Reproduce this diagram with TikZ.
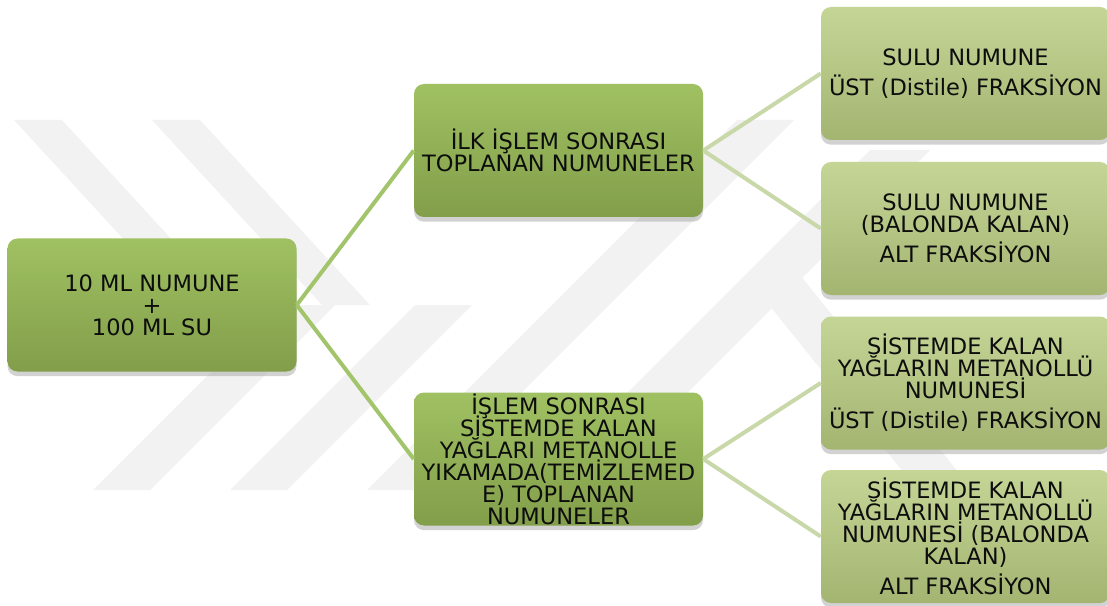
\documentclass[tikz,border=0pt]{standalone}
\usepackage{fontspec}
\setmainfont{DejaVu Sans}
\usetikzlibrary{shadows}
\definecolor{koyuust}{RGB}{160,193,98}
\definecolor{koyualt}{RGB}{130,158,74}
\definecolor{acikust}{RGB}{196,213,150}
\definecolor{acikalt}{RGB}{164,181,114}
\definecolor{baglanti}{RGB}{162,197,108}
\definecolor{acikbaglanti}{RGB}{200,216,168}
\definecolor{filigran}{RGB}{242,242,242}
\newcommand\kutuyazi{\fontsize{16.9}{16.5}\selectfont\setlength{\lineskiplimit}{-50pt}}
\tikzset{
  kutu/.style={rectangle, rounded corners=7.5pt, minimum width=216.75pt,
    minimum height=99.75pt, inner sep=0pt, align=center, text=black!95,
    font=\kutuyazi,
    drop shadow={shadow xshift=0pt, shadow yshift=-3.5pt, fill=black!35, opacity=0.5}},
  koyu/.style={kutu, top color=koyuust, bottom color=koyualt},
  acik/.style={kutu, top color=acikust, bottom color=acikalt},
  hat/.style={line width=3pt, baglanti},
  acikhat/.style={line width=3pt, acikbaglanti}
}
\begin{document}
\begin{tikzpicture}[x=0.75pt,y=-0.75pt]
\useasboundingbox (0,0) rectangle (1107,606);
% filigran
\fill [filigran] (14,120) -- (62,120) -- (232,305) -- (184,305) -- cycle;
\fill [filigran] (152,120) -- (200,120) -- (370,305) -- (322,305) -- cycle;
\fill [filigran] (93,490) -- (150,490) -- (335,305) -- (278,305) -- cycle;
\fill [filigran] (230,490) -- (287,490) -- (472,305) -- (415,305) -- cycle;
\fill [filigran] (367,490) -- (424,490) -- (794,120) -- (737,120) -- cycle;
\fill [filigran] (530,490) -- (590,490) -- (930,150) -- (870,150) -- cycle;
\fill [filigran] (745,275) -- (800,275) -- (975,493) -- (920,493) -- cycle;
% kutular
\node [koyu] (numune) at (152,305) {10 ML NUMUNE\\+\\100 ML SU};
\node [koyu] (ilk) at (558.5,150.5) {İLK İŞLEM SONRASI\\TOPLANAN NUMUNELER};
\node [koyu] (islem) at (558.5,459) {İŞLEM SONRASI\\SİSTEMDE KALAN\\YAĞLARI METANOLLE\\YIKAMADA(TEMİZLEMED\\E) TOPLANAN\\NUMUNELER};
\node [acik] (ustbir) at (965.5,73.5) {SULU NUMUNE\\[6pt]ÜST (Distile) FRAKSİYON};
\node [acik] (altbir) at (965.5,228.5) {SULU NUMUNE\\(BALONDA KALAN)\\[6pt]ALT FRAKSİYON};
\node [acik] (ustiki) at (965.5,383) {SİSTEMDE KALAN\\YAĞLARIN METANOLLÜ\\NUMUNESİ\\[6pt]ÜST (Distile) FRAKSİYON};
\node [acik] (altiki) at (965.5,536.5) {SİSTEMDE KALAN\\YAĞLARIN METANOLLÜ\\NUMUNESİ (BALONDA\\KALAN)\\[6pt]ALT FRAKSİYON};
% baglantilar
\draw [hat] (numune.east) -- (ilk.west);
\draw [hat] (numune.east) -- (islem.west);
\draw [acikhat] (ilk.east) -- (ustbir.west);
\draw [acikhat] (ilk.east) -- (altbir.west);
\draw [acikhat] (islem.east) -- (ustiki.west);
\draw [acikhat] (islem.east) -- (altiki.west);
\end{tikzpicture}
\end{document}
